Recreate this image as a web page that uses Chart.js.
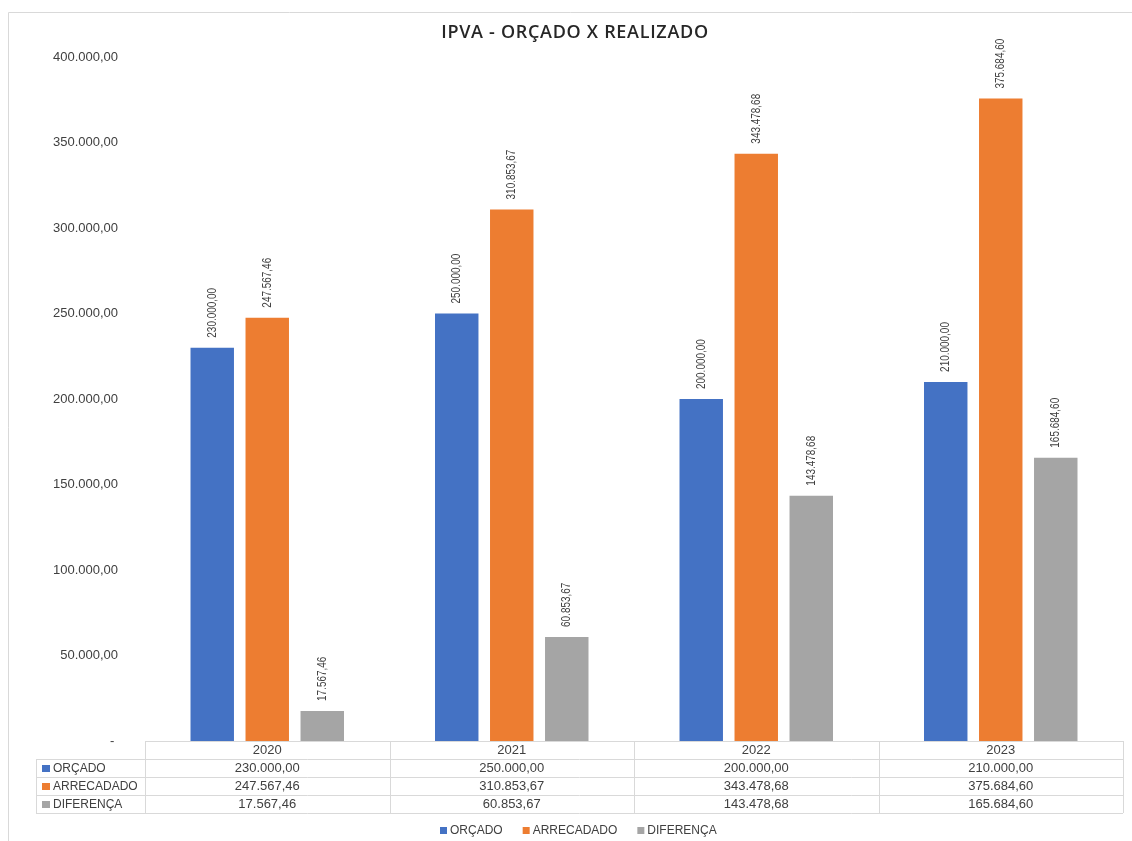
<!DOCTYPE html>
<html>
<head>
<meta charset="utf-8">
<script src="https://cdn.jsdelivr.net/npm/chart.js@4/dist/chart.umd.min.js"></script>
<style>
  html, body { margin: 0; padding: 0; background: #fff; }
  #wrap { width: 1132px; height: 841px; position: relative; }
  canvas { display: block; }
</style>
</head>
<body>
<div id="wrap"><canvas id="c" width="1132" height="841"></canvas></div>
<script>
// ---- data ----
const years = ['2020', '2021', '2022', '2023'];
const orcado = [230000.00, 250000.00, 200000.00, 210000.00];
const arrecadado = [247567.46, 310853.67, 343478.68, 375684.60];
const diferenca = [17567.46, 60853.67, 143478.68, 165684.60];
const seriesNames = ['ORÇADO', 'ARRECADADO', 'DIFERENÇA'];
const seriesColors = ['#4472C4', '#ED7D31', '#A5A5A5'];
const yMax = 400000;
const yStep = 50000;
const chartTitle = 'IPVA - ORÇADO X REALIZADO';

// pt-BR number format: 1.234.567,89
function fmt(v) {
  const neg = v < 0;
  const parts = Math.abs(v).toFixed(2).split('.');
  const intPart = parts[0].replace(/\B(?=(\d{3})+(?!\d))/g, '.');
  return (neg ? '-' : '') + intPart + ',' + parts[1];
}

const SANS = '"Liberation Sans", Arial, sans-serif';
const TEXT = '#404040';
const LINE = '#d9d9d9';

const decor = {
  id: 'decor',
  beforeDraw(chart) {
    const ctx = chart.ctx;
    ctx.save();
    ctx.strokeStyle = LINE;
    ctx.lineWidth = 1;
    ctx.beginPath();
    ctx.moveTo(8.5, chart.height + 5);
    ctx.lineTo(8.5, 12.5);
    ctx.lineTo(chart.width + 5, 12.5);
    ctx.stroke();
    ctx.restore();
  },
  afterDatasetsDraw(chart) {
    // rotated value labels above each bar (slightly condensed)
    const ctx = chart.ctx;
    ctx.save();
    ctx.fillStyle = TEXT;
    ctx.font = '12px ' + SANS;
    ctx.textAlign = 'left';
    ctx.textBaseline = 'middle';
    chart.data.datasets.forEach((ds, di) => {
      const meta = chart.getDatasetMeta(di);
      meta.data.forEach((bar, i) => {
        ctx.save();
        ctx.translate(bar.x, bar.y - 10);
        ctx.rotate(-Math.PI / 2);
        ctx.scale(0.83, 1);
        ctx.fillText(fmt(ds.data[i]), 0, 0);
        ctx.restore();
      });
    });
    ctx.restore();
  },
  afterDraw(chart) {
    const ctx = chart.ctx;
    const xs = chart.scales.x;
    const area = chart.chartArea;
    const band = (xs.right - xs.left) / years.length;
    const top = Math.round(area.bottom);
    const rowH = 18;
    const labelLeft = 36;
    const px = v => Math.round(v) + 0.5;

    // title
    ctx.save();
    ctx.fillStyle = '#262626';
    ctx.font = '600 18px "Open Sans", ' + SANS;
    ctx.letterSpacing = '0.7px';
    ctx.textAlign = 'center';
    ctx.textBaseline = 'middle';
    ctx.fillText(chartTitle, 575, 33);
    ctx.restore();

    // data table under the axis
    ctx.save();
    ctx.strokeStyle = LINE;
    ctx.lineWidth = 1;
    ctx.beginPath();
    ctx.moveTo(xs.left, px(top));
    ctx.lineTo(xs.right, px(top));
    for (let r = 1; r <= 4; r++) {
      ctx.moveTo(labelLeft, px(top + r * rowH));
      ctx.lineTo(xs.right, px(top + r * rowH));
    }
    for (let c = 0; c <= years.length; c++) {
      const x = px(xs.left + c * band);
      ctx.moveTo(x, top);
      ctx.lineTo(x, top + 4 * rowH);
    }
    ctx.moveTo(px(labelLeft), top + rowH);
    ctx.lineTo(px(labelLeft), top + 4 * rowH);
    ctx.stroke();

    ctx.fillStyle = TEXT;
    ctx.textBaseline = 'middle';
    ctx.textAlign = 'center';
    ctx.font = '13px ' + SANS;
    years.forEach((y, i) => {
      ctx.fillText(y, xs.getPixelForValue(i), top + rowH / 2 + 0.5);
    });
    chart.data.datasets.forEach((ds, di) => {
      const cy = top + (di + 1) * rowH + rowH / 2 + 0.5;
      ctx.textAlign = 'center';
      ctx.font = '13px ' + SANS;
      ds.data.forEach((v, i) => {
        ctx.fillText(fmt(v), xs.getPixelForValue(i), cy);
      });
      ctx.fillStyle = ds.backgroundColor;
      ctx.fillRect(42, Math.round(cy) - 4, 8, 7);
      ctx.fillStyle = TEXT;
      ctx.textAlign = 'left';
      ctx.font = '12px ' + SANS;
      ctx.fillText(ds.label, 53, cy);
    });
    ctx.restore();

    // legend
    ctx.save();
    ctx.font = '12px ' + SANS;
    ctx.textBaseline = 'middle';
    ctx.textAlign = 'left';
    const box = 7, gapBox = 3, gapItem = 20;
    const widths = chart.data.datasets.map(ds => ctx.measureText(ds.label).width);
    const total = widths.reduce((a, w) => a + box + gapBox + w, 0) + gapItem * (widths.length - 1);
    let x = Math.round(578 - total / 2);
    const ly = 831;
    chart.data.datasets.forEach((ds, di) => {
      ctx.fillStyle = ds.backgroundColor;
      ctx.fillRect(x, Math.round(ly) - 4, box, 7);
      x += box + gapBox;
      ctx.fillStyle = TEXT;
      ctx.fillText(ds.label, x, ly);
      x += widths[di] + gapItem;
    });
    ctx.restore();
  }
};

const seriesData = [orcado, arrecadado, diferenca];

new Chart(document.getElementById('c'), {
  type: 'bar',
  data: {
    labels: years,
    datasets: seriesNames.map((name, i) => ({
      label: name,
      data: seriesData[i],
      backgroundColor: seriesColors[i],
      borderWidth: 0,
      categoryPercentage: 0.675,
      barPercentage: 0.79
    }))
  },
  options: {
    responsive: false,
    animation: false,
    devicePixelRatio: 1,
    layout: { padding: { top: 57, left: 0, right: 9, bottom: 28 } },
    plugins: {
      legend: { display: false },
      title: { display: false },
      tooltip: { enabled: false }
    },
    scales: {
      x: {
        grid: { display: false },
        border: { display: false },
        ticks: { display: false },
        afterFit(scale) { scale.height = 72; }
      },
      y: {
        min: 0,
        max: yMax,
        grid: { display: false },
        border: { display: false },
        ticks: {
          stepSize: yStep,
          padding: 19,
          color: TEXT,
          font: { family: SANS, size: 13 },
          callback: v => (v === 0 ? '- ' : fmt(v))
        },
        afterFit(scale) { scale.width = 145; }
      }
    }
  },
  plugins: [decor]
});
</script>
</body>
</html>
